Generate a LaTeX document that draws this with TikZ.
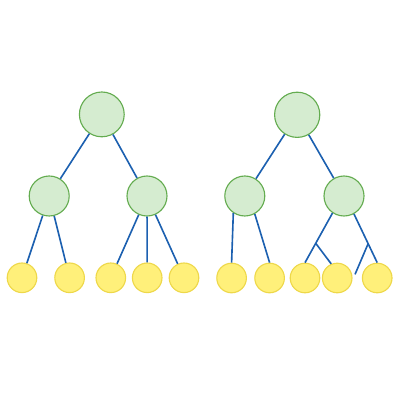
\documentclass[tikz,border=0pt]{standalone}
\usepackage{tikz}

\definecolor{nodegreen}{RGB}{213,236,208}
\definecolor{linegreen}{RGB}{100,172,80}
\definecolor{leafyellow}{RGB}{255,240,122}
\definecolor{lineyellow}{RGB}{238,216,74}
\definecolor{edgeblue}{RGB}{28,96,176}

\begin{document}
\begin{tikzpicture}[
    inner/.style={circle, draw=linegreen, fill=nodegreen, line width=0.8pt, inner sep=0pt},
    leaf/.style={circle, draw=lineyellow, fill=leafyellow, line width=0.8pt, inner sep=0pt, minimum size=0.74cm},
    edge/.style={edgeblue, line width=1.15pt}]
    \useasboundingbox (0cm,0cm) rectangle (10cm,10cm);
    % left tree
    \node[inner, minimum size=1.12cm] (lroot) at (2.545cm, 7.14cm) {};
    \node[inner, minimum size=1cm]    (la)    at (1.23cm,  5.1cm)  {};
    \node[inner, minimum size=1cm]    (lb)    at (3.675cm, 5.1cm)  {};
    \node[leaf] (ll1) at (0.55cm, 3.055cm) {};
    \node[leaf] (ll2) at (1.74cm, 3.055cm) {};
    \node[leaf] (ll3) at (2.77cm, 3.055cm) {};
    \node[leaf] (ll4) at (3.68cm, 3.055cm) {};
    \node[leaf] (ll5) at (4.60cm, 3.055cm) {};
    \draw[edge] (lroot) -- (la);
    \draw[edge] (lroot) -- (lb);
    \draw[edge] (la) -- (ll1);
    \draw[edge] (la) -- (ll2);
    \draw[edge] (lb) -- (ll3);
    \draw[edge] (lb) -- (ll4);
    \draw[edge] (lb) -- (ll5);
    % right tree
    \node[inner, minimum size=1.13cm] (rroot) at (7.43cm, 7.13cm) {};
    \node[inner, minimum size=1cm]    (ra)    at (6.12cm, 5.1cm)  {};
    \node[inner, minimum size=1cm]    (rb)    at (8.60cm, 5.1cm)  {};
    \node[leaf] (rl1) at (5.79cm,  3.05cm) {};
    \node[leaf] (rl2) at (6.74cm,  3.05cm) {};
    \node[leaf] (rl3) at (7.625cm, 3.05cm) {};
    \node[leaf] (rl4) at (8.43cm,  3.05cm) {};
    \node[leaf] (rl5) at (9.43cm,  3.05cm) {};
    \coordinate (rfree) at (8.875cm, 3.14cm);
    \draw[edge] (rroot) -- (ra);
    \draw[edge] (rroot) -- (rb);
    \draw[edge] (ra.-124) -- (rl1.north);
    \draw[edge] (ra.-61)  -- (rl2.north);
    \draw[edge] (rb.-124) -- coordinate[pos=0.61] (rj1) (rl3.north);
    \draw[edge] (rb.-61)  -- coordinate[pos=0.61] (rj2) (rl5.north);
    \draw[edge] (rj1) -- (rl4.113);
    \draw[edge] (rj2) -- (rfree);
\end{tikzpicture}
\end{document}
